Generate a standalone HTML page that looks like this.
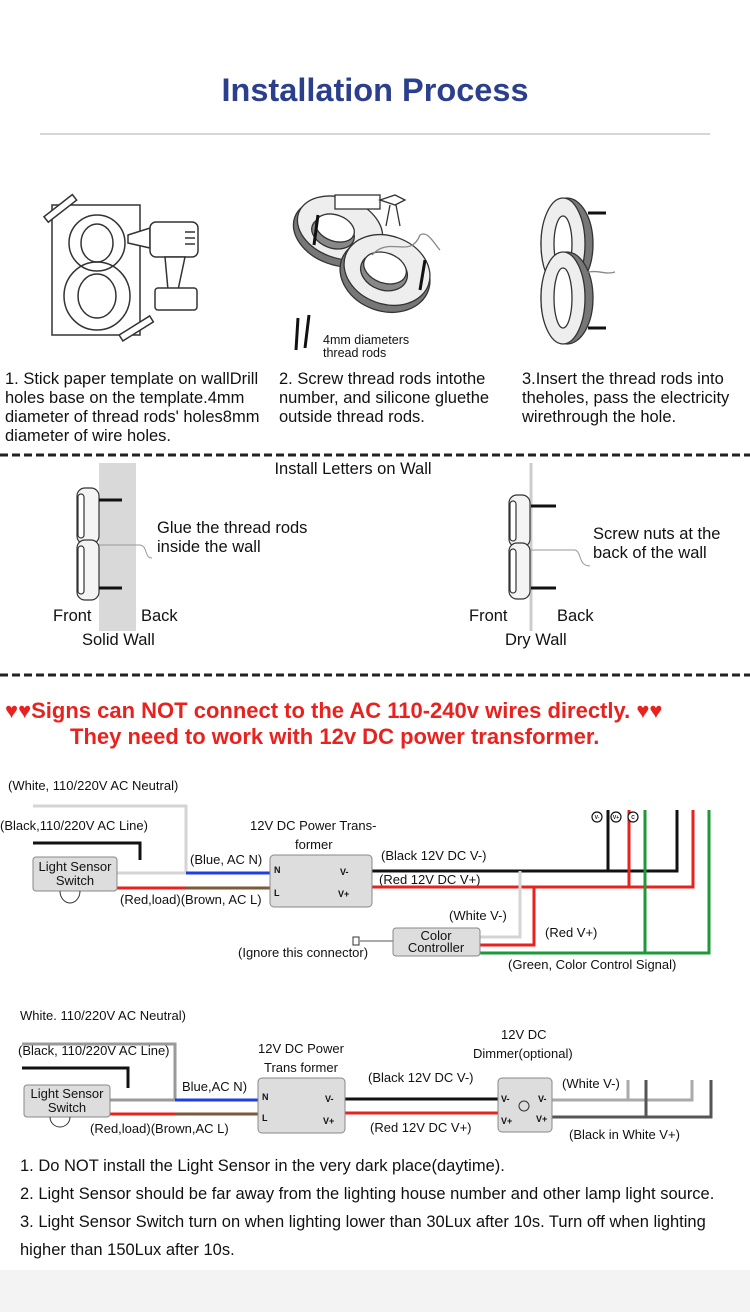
<!DOCTYPE html>
<html><head><meta charset="utf-8"><style>
html,body{margin:0;padding:0;background:#fff}
body{width:750px;height:1312px;overflow:hidden;position:relative;font-family:"Liberation Sans",Arial,sans-serif}
svg{position:absolute;left:0;top:0}
</style></head><body>
<svg width="750" height="1312" viewBox="0 0 750 1312" font-family="Liberation Sans, Arial, sans-serif">
<rect x="0" y="1270" width="750" height="42" fill="#f3f3f3"/>
<text x="375" y="101" text-anchor="middle" font-size="32.5" font-weight="bold" fill="#2b3f8c">Installation Process</text>
<line x1="40" y1="134" x2="710" y2="134" stroke="#c8c8c8" stroke-width="1.5"/>

<!-- Step 1 illustration -->
<g fill="none" stroke="#333" stroke-width="1.5">
<rect x="52" y="205" width="88" height="130" fill="#fff"/>
<rect x="42" y="205" width="36" height="7" transform="rotate(-38 60 208)" fill="#fff"/>
<rect x="118" y="325" width="36" height="7" transform="rotate(-32 136 328)" fill="#fff"/>
<ellipse cx="97" cy="243" rx="28" ry="28"/><ellipse cx="97" cy="243" rx="16" ry="19"/>
<ellipse cx="97" cy="296" rx="33" ry="34"/><ellipse cx="97" cy="296" rx="19" ry="22"/>
<path d="M128 235 L150 228 L150 248 L128 243 Z" fill="#fff"/>
<rect x="150" y="222" width="48" height="35" rx="6" fill="#fff"/>
<path d="M165 257 L185 257 L178 290 L168 290 Z" fill="#fff"/>
<rect x="155" y="288" width="42" height="22" rx="3" fill="#fff"/>
<line x1="185" y1="232" x2="195" y2="232"/><line x1="185" y1="238" x2="195" y2="238"/><line x1="185" y1="244" x2="195" y2="244"/>
</g>
<!-- Step 2 illustration -->
<g stroke="#333" stroke-width="1.3">
<ellipse cx="338" cy="233" rx="46" ry="32" fill="#777" transform="rotate(20 338 233)"/>
<ellipse cx="340" cy="228" rx="44" ry="30" fill="#eee" transform="rotate(20 340 228)"/>
<ellipse cx="333" cy="233" rx="22" ry="15" fill="#888" transform="rotate(20 333 233)"/>
<ellipse cx="385" cy="275" rx="46" ry="36" fill="#777" transform="rotate(20 385 275)"/>
<ellipse cx="387" cy="270" rx="44" ry="34" fill="#eee" transform="rotate(20 387 270)"/>
<ellipse cx="384" cy="272" rx="24" ry="18" fill="#888" transform="rotate(20 384 272)"/>
<ellipse cx="385" cy="268" rx="22" ry="15" fill="#fff" transform="rotate(20 385 268)"/>
<ellipse cx="335" cy="228" rx="20" ry="13" fill="#fff" transform="rotate(20 335 228)"/>
<rect x="335" y="195" width="45" height="14" fill="#fff"/>
<path d="M380 200 L395 195 L405 200 L395 205 Z M390 205 L386 226 M396 205 L400 226" fill="none"/>
<line x1="318" y1="215" x2="314" y2="245" stroke="#111" stroke-width="3"/>
<line x1="425" y1="260" x2="420" y2="290" stroke="#111" stroke-width="3"/>
<line x1="298" y1="318" x2="296" y2="350" stroke="#111" stroke-width="3"/>
<line x1="309" y1="315" x2="305" y2="348" stroke="#111" stroke-width="3"/>
<path d="M372 255 C390 235 410 260 420 235 C428 230 435 245 440 250" fill="none" stroke="#888"/>
</g>
<text x="323" y="344" font-size="12.5" fill="#111">4mm diameters</text>
<text x="323" y="357" font-size="12.5" fill="#111">thread rods</text>
<!-- Step 3 illustration -->
<g stroke="#333" stroke-width="1.3">
<ellipse cx="567" cy="244" rx="26" ry="46" fill="#777"/>
<ellipse cx="563" cy="244" rx="22" ry="46" fill="#eee"/>
<ellipse cx="563" cy="244" rx="9" ry="28" fill="#fff"/>
<ellipse cx="567" cy="298" rx="26" ry="46" fill="#777"/>
<ellipse cx="563" cy="298" rx="22" ry="46" fill="#eee"/>
<ellipse cx="563" cy="298" rx="9" ry="30" fill="#fff"/>
<line x1="588" y1="213" x2="606" y2="213" stroke="#111" stroke-width="3"/>
<line x1="588" y1="328" x2="606" y2="328" stroke="#111" stroke-width="3"/>
<path d="M588 272 C600 270 605 275 615 272" fill="none" stroke="#888"/>
</g>

<g font-size="16.5" fill="#111">
<text x="5" y="384">1. Stick paper template on wallDrill</text>
<text x="5" y="403">holes base on the template.4mm</text>
<text x="5" y="422">diameter of thread rods' holes8mm</text>
<text x="5" y="441">diameter of wire holes.</text>
<text x="279" y="384">2. Screw thread rods intothe</text>
<text x="279" y="403">number, and silicone gluethe</text>
<text x="279" y="422">outside thread rods.</text>
<text x="522" y="384">3.Insert the thread rods into</text>
<text x="522" y="403">theholes, pass the electricity</text>
<text x="522" y="422">wirethrough the hole.</text>
</g>
<line x1="0" y1="455" x2="750" y2="455" stroke="#222" stroke-width="3" stroke-dasharray="8,4"/>
<line x1="0" y1="675" x2="750" y2="675" stroke="#222" stroke-width="3" stroke-dasharray="8,4"/>

<text x="353" y="474" text-anchor="middle" font-size="16.5" fill="#111">Install Letters on Wall</text>
<!-- solid wall -->
<rect x="99" y="463" width="37" height="168" fill="#d9d9d9"/>
<g stroke="#333" stroke-width="1.2">
<rect x="77" y="488" width="22" height="56" rx="8" fill="#f4f4f4"/>
<rect x="77" y="540" width="22" height="60" rx="8" fill="#f4f4f4"/>
<rect x="78" y="494" width="6" height="44" rx="3" fill="#fff"/>
<rect x="78" y="546" width="6" height="48" rx="3" fill="#fff"/>
</g>
<line x1="99" y1="500" x2="122" y2="500" stroke="#111" stroke-width="3"/>
<line x1="99" y1="588" x2="122" y2="588" stroke="#111" stroke-width="3"/>
<path d="M99 545 L140 545 C148 546 144 558 152 558" fill="none" stroke="#999"/>
<g font-size="16.5" fill="#111">
<text x="157" y="533">Glue the  thread rods</text>
<text x="157" y="552">inside the wall</text>
<text x="53" y="621">Front</text>
<text x="141" y="621">Back</text>
<text x="82" y="645">Solid Wall</text>
</g>
<!-- dry wall -->
<line x1="531" y1="463" x2="531" y2="631" stroke="#ccc" stroke-width="3"/>
<g stroke="#333" stroke-width="1.2">
<rect x="509" y="495" width="21" height="52" rx="8" fill="#f4f4f4"/>
<rect x="509" y="543" width="21" height="56" rx="8" fill="#f4f4f4"/>
<rect x="510" y="501" width="6" height="40" rx="3" fill="#fff"/>
<rect x="510" y="549" width="6" height="44" rx="3" fill="#fff"/>
</g>
<line x1="531" y1="506" x2="556" y2="506" stroke="#111" stroke-width="3"/>
<line x1="531" y1="588" x2="556" y2="588" stroke="#111" stroke-width="3"/>
<path d="M531 550 L575 550 C582 552 578 566 590 566" fill="none" stroke="#999"/>
<g font-size="16.5" fill="#111">
<text x="593" y="539">Screw nuts at the</text>
<text x="593" y="558">back of the wall</text>
<text x="469" y="621">Front</text>
<text x="557" y="621">Back</text>
<text x="505" y="645">Dry Wall</text>
</g>

<text x="5" y="718" font-size="22" font-weight="bold" fill="#e8231f">♥♥Signs can NOT connect to the AC 110-240v wires directly. ♥♥</text>
<text x="70" y="744" font-size="22" font-weight="bold" fill="#e8231f">They need to work with 12v DC power transformer.</text>

<!-- Diagram 1 -->
<g font-size="13" fill="#111">
<text x="8" y="790">(White, 110/220V AC Neutral)</text>
<text x="0" y="830">(Black,110/220V AC Line)</text>
<text x="250" y="830">12V DC Power Trans-</text>
<text x="295" y="849">former</text>
<text x="190" y="864">(Blue, AC N)</text>
<text x="120" y="904">(Red,load)(Brown, AC L)</text>
<text x="381" y="860">(Black 12V DC V-)</text>
<text x="379" y="884">(Red 12V DC V+)</text>
<text x="449" y="920">(White V-)</text>
<text x="545" y="937">(Red V+)</text>
<text x="238" y="957">(Ignore this connector)</text>
<text x="508" y="969">(Green, Color Control Signal)</text>
</g>
<g fill="none" stroke-width="3">
<path d="M33 806 H186 V873" stroke="#d4d4d4"/>
<line x1="117" y1="873" x2="186" y2="873" stroke="#d4d4d4"/>
<line x1="186" y1="873" x2="270" y2="873" stroke="#1e3ee0"/>
<path d="M33 843 H140 V860" stroke="#111"/>
<line x1="117" y1="888" x2="186" y2="888" stroke="#e8231f"/>
<line x1="186" y1="888" x2="270" y2="888" stroke="#7a5a3a"/>
<path d="M372 871 H677 V810" stroke="#111"/>
<line x1="608" y1="810" x2="608" y2="871" stroke="#111"/>
<path d="M372 887 H693 V810" stroke="#e8231f"/>
<line x1="629" y1="810" x2="629" y2="887" stroke="#e8231f"/>
<path d="M480 953 H709 V810" stroke="#1c9a3a"/>
<line x1="645" y1="810" x2="645" y2="953" stroke="#1c9a3a"/>
<path d="M520 871 V937 H480" stroke="#d4d4d4"/>
<path d="M534 887 V945 H480" stroke="#e8231f"/>
<line x1="360" y1="941" x2="393" y2="941" stroke="#aaa" stroke-width="2"/>
</g>
<rect x="353" y="937" width="6" height="8" fill="#fff" stroke="#333"/>
<g stroke="#888" stroke-width="1" fill="#ddd">
<rect x="33" y="857" width="84" height="34" rx="3"/>
<rect x="270" y="855" width="102" height="52" rx="4"/>
<rect x="393" y="928" width="87" height="28" rx="3"/>
</g>
<path d="M60 891 A10 12 0 0 0 80 891" fill="none" stroke="#333"/>
<g font-size="13" fill="#111" text-anchor="middle">
<text x="75" y="871">Light Sensor</text><text x="75" y="885">Switch</text>
<text x="436" y="940">Color</text><text x="436" y="952">Controller</text>
</g>
<g font-size="9" font-weight="bold" fill="#111">
<text x="274" y="873">N</text><text x="274" y="896">L</text>
<text x="340" y="875">V-</text><text x="338" y="897">V+</text>
</g>
<g fill="#fff" stroke="#111" stroke-width="1.2">
<circle cx="597" cy="817" r="5"/><circle cx="616" cy="817" r="5"/><circle cx="633" cy="817" r="5"/>
</g>
<g font-size="5" font-weight="bold" fill="#111" text-anchor="middle">
<text x="597" y="819">V-</text><text x="616" y="819">V+</text><text x="633" y="819">C</text>
</g>

<!-- Diagram 2 -->
<g font-size="13" fill="#111">
<text x="20" y="1020">White. 110/220V AC Neutral)</text>
<text x="18" y="1055">(Black, 110/220V AC Line)</text>
<text x="258" y="1053">12V DC Power</text>
<text x="264" y="1072">Trans former</text>
<text x="501" y="1039">12V DC</text>
<text x="473" y="1058">Dimmer(optional)</text>
<text x="182" y="1091">Blue,AC N)</text>
<text x="90" y="1133">(Red,load)(Brown,AC L)</text>
<text x="368" y="1082">(Black 12V DC V-)</text>
<text x="370" y="1132">(Red 12V DC V+)</text>
<text x="562" y="1088">(White V-)</text>
<text x="569" y="1139">(Black in White V+)</text>
</g>
<g fill="none" stroke-width="3">
<path d="M22 1044 H175 V1100" stroke="#9a9a9a"/>
<line x1="110" y1="1100" x2="175" y2="1100" stroke="#9a9a9a"/>
<line x1="175" y1="1100" x2="258" y2="1100" stroke="#1e3ee0"/>
<path d="M22 1068 H128 V1088" stroke="#111"/>
<line x1="110" y1="1114" x2="175" y2="1114" stroke="#e8231f"/>
<line x1="175" y1="1114" x2="258" y2="1114" stroke="#7a5a3a"/>
<line x1="345" y1="1099" x2="498" y2="1099" stroke="#111"/>
<line x1="345" y1="1113" x2="498" y2="1113" stroke="#e8231f"/>
<path d="M552 1100 H692 V1080" stroke="#aaa"/>
<line x1="628" y1="1080" x2="628" y2="1100" stroke="#aaa"/>
<path d="M552 1117 H711 V1080" stroke="#555"/>
<line x1="646" y1="1080" x2="646" y2="1117" stroke="#555"/>
</g>
<g stroke="#888" stroke-width="1" fill="#ddd">
<rect x="24" y="1085" width="86" height="32" rx="3"/>
<rect x="258" y="1078" width="87" height="55" rx="4"/>
<rect x="498" y="1078" width="54" height="54" rx="4"/>
</g>
<circle cx="524" cy="1106" r="5" fill="none" stroke="#333"/>
<path d="M50 1117 A10 10 0 0 0 70 1117" fill="none" stroke="#333"/>
<g font-size="13" fill="#111" text-anchor="middle">
<text x="67" y="1098">Light Sensor</text><text x="67" y="1112">Switch</text>
</g>
<g font-size="9" font-weight="bold" fill="#111">
<text x="262" y="1100">N</text><text x="262" y="1121">L</text>
<text x="325" y="1102">V-</text><text x="323" y="1124">V+</text>
<text x="501" y="1102">V-</text><text x="501" y="1124">V+</text>
<text x="538" y="1102">V-</text><text x="536" y="1122">V+</text>
</g>

<g font-size="16.5" fill="#111">
<text x="20" y="1171">1. Do NOT install the Light Sensor in the very dark place(daytime).</text>
<text x="20" y="1199">2. Light Sensor should be far away from the lighting house number and other lamp light source.</text>
<text x="20" y="1227">3. Light Sensor Switch turn on when lighting lower than 30Lux after 10s. Turn off when lighting</text>
<text x="20" y="1255">higher than 150Lux after 10s.</text>
</g>
</svg>
</body></html>
